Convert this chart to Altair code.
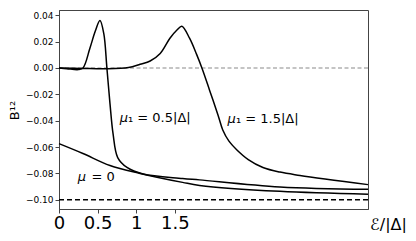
import altair as alt
import pandas as pd

# x positions (E/|Delta|) and B^12 values
x_mu0 = [0.0, 0.31, 0.66, 1.05, 1.6, 1.82, 2.86, 4.0]
y_mu0 = [-0.0574, -0.0649, -0.0740, -0.0800, -0.0868, -0.0891, -0.0936, -0.0958]

x_mu05 = [0.0, 0.1, 0.25, 0.31, 0.40, 0.47, 0.53, 0.58, 0.62, 0.66, 0.70, 0.76, 0.88, 1.09, 1.6, 1.82, 2.86, 4.0]
y_mu05 = [0.0, -0.0005, -0.0012, 0.0, 0.015, 0.028, 0.036, 0.026, 0.0, -0.027, -0.05, -0.068, -0.0755, -0.0805, -0.0838, -0.0849, -0.0903, -0.0921]

x_mu15 = [0.0, 0.3, 0.6, 0.9, 1.05, 1.18, 1.31, 1.436, 1.53, 1.59, 1.69, 1.78, 1.85, 1.95, 2.06, 2.12, 2.2, 2.30, 2.45, 2.64, 2.86, 3.12, 4.0]
y_mu15 = [0.0, -0.0003, -0.0006, 0.0003, 0.0028, 0.0053, 0.011, 0.0226, 0.029, 0.0317, 0.0226, 0.0105, 0.0, -0.017, -0.036, -0.047, -0.0555, -0.062, -0.0695, -0.0755, -0.079, -0.0815, -0.0885]

ref_zero = [0.0]
ref_limit = [-0.10]

# annotation pieces: italic symbol (right-aligned at sym_x) + upright remainder (left-aligned at rest_x)
label_sym = ["μ", "μ", "μ"]
label_rest = ["₁ = 0.5|Δ|", "₁ = 1.5|Δ|", "= 0"]
label_sym_x = [0.893, 2.29, 0.35]
label_rest_x = [0.893, 2.29, 0.42]
label_y = [-0.0377, -0.0385, -0.083]

x_ticks = [0, 0.5, 1, 1.5]
y_ticks = [-0.10, -0.08, -0.06, -0.04, -0.02, 0.00, 0.02, 0.04]

xs = alt.Scale(domain=[0, 4], nice=False, zero=False)
ys = alt.Scale(domain=[-0.107, 0.044], nice=False, zero=False)

xaxis = alt.Axis(values=x_ticks, labelFontSize=18, labelColor="black", grid=False,
                 tickSize=4, tickColor="#444", domainColor="#444", labelPadding=1,
                 labelFont="DejaVu Sans", labelFlush=False, labelOverlap=False,
                 title="ℰ/|Δ|", titleFont="DejaVu Sans", titleFontSize=16,
                 titleFontWeight="normal", titleX=329, titleY=15, titleAlign="center",
                 titleBaseline="middle", titleColor="black", format=".1~f")
yaxis = alt.Axis(values=y_ticks, labelFontSize=9, labelColor="black", grid=False,
                 tickSize=4, tickColor="#444", domainColor="#444", format=".2f",
                 labelFont="DejaVu Sans", labelPadding=2,
                 title="B¹²", titleFont="DejaVu Sans", titleFontSize=13,
                 titleFontWeight="normal", titleX=-45, titleY=100, titleAngle=-90,
                 titleAlign="center", titleBaseline="middle", titleColor="black")

X = lambda f="x": alt.X(f"{f}:Q", scale=xs, axis=xaxis)
Y = lambda: alt.Y("y:Q", scale=ys, axis=yaxis)

def curve(xv, yv):
    df = pd.DataFrame({"x": xv, "y": yv})
    return alt.Chart(df).mark_line(interpolate="catmull-rom", color="black", strokeWidth=1.5).encode(
        x=X(), y=Y())

zero_rule = alt.Chart(pd.DataFrame({"y": ref_zero})).mark_rule(
    color="#8a8a8a", strokeDash=[4, 2.5], strokeWidth=1.2).encode(y=Y())
limit_rule = alt.Chart(pd.DataFrame({"y": ref_limit})).mark_rule(
    color="black", strokeDash=[5, 3], strokeWidth=1.5).encode(y=Y())

lab_df = pd.DataFrame({"s": label_sym, "r": label_rest, "x": label_sym_x,
                       "xr": label_rest_x, "y": label_y})
labels_sym = alt.Chart(lab_df).mark_text(
    font="DejaVu Sans", fontSize=13, fontStyle="italic", color="black", align="right",
    baseline="middle").encode(x=X("x"), y=Y(), text="s:N")
labels_rest = alt.Chart(lab_df).mark_text(
    font="DejaVu Sans", fontSize=13, color="black", align="left",
    baseline="middle").encode(x=X("xr"), y=Y(), text="r:N")

chart = alt.layer(
    curve(x_mu0, y_mu0),
    zero_rule, limit_rule,
    curve(x_mu05, y_mu05), curve(x_mu15, y_mu15),
    labels_sym, labels_rest,
).properties(
    width=309, height=199,
    padding={"left": 51, "top": 2, "right": 40, "bottom": 24},
    autosize=alt.AutoSizeParams(type="none"),
).configure_view(stroke="#444", strokeWidth=1)

chart.save("out.html", embed_options={"renderer": "svg", "actions": False})
